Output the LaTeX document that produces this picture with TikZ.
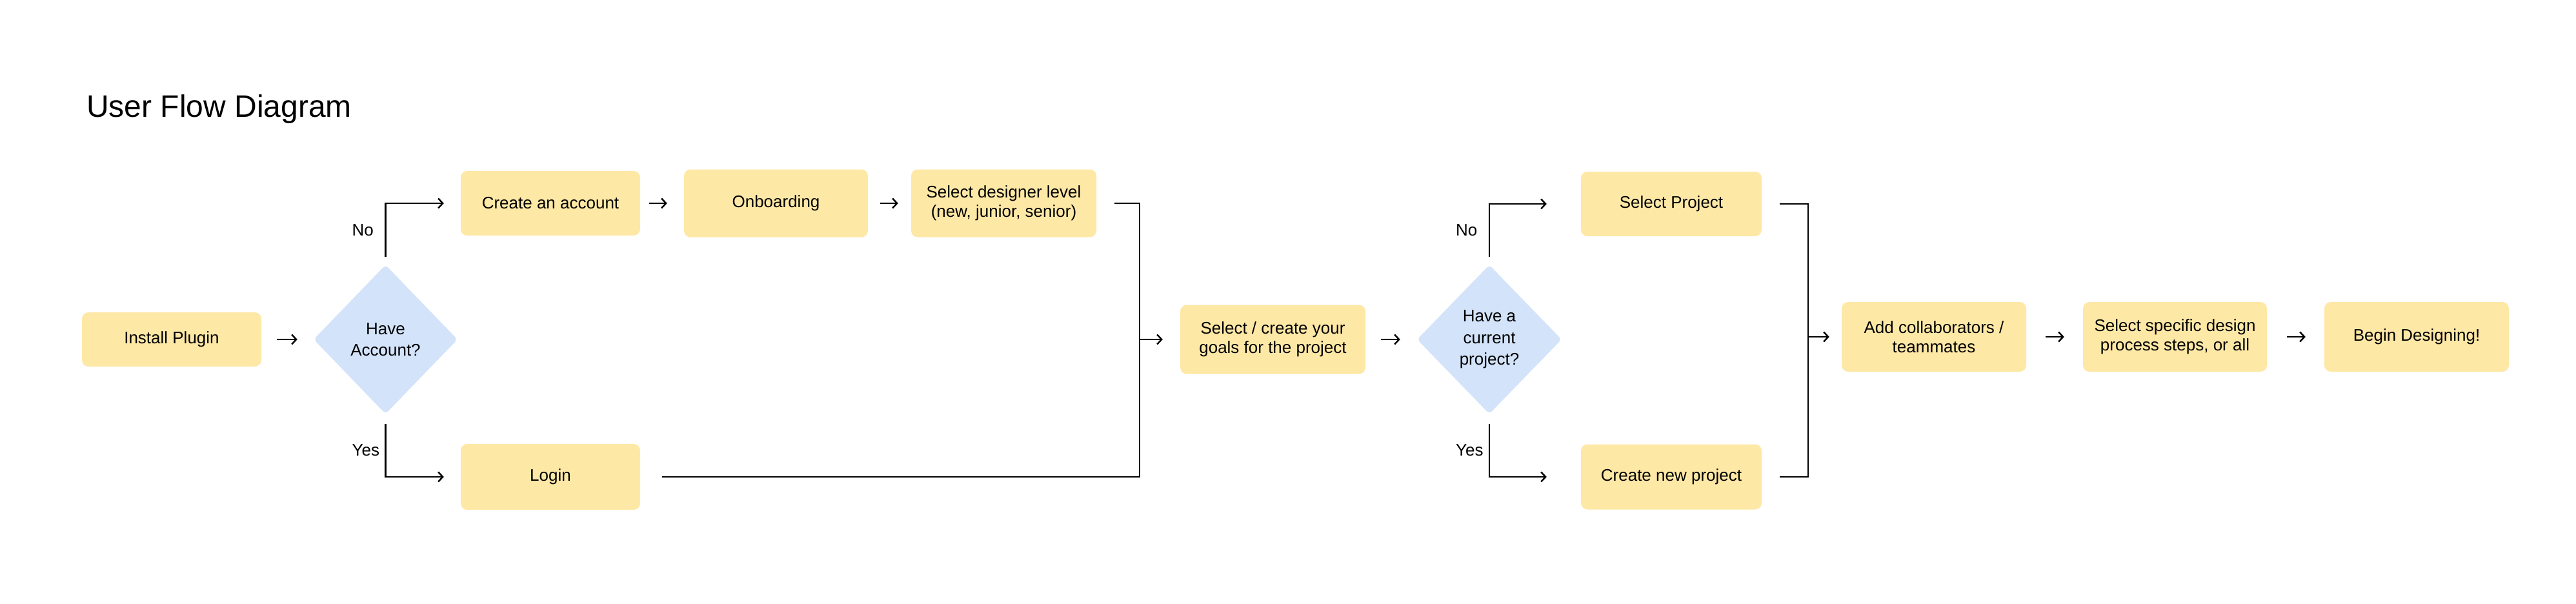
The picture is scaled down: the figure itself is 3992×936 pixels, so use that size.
\documentclass[tikz,border=0pt]{standalone}
\usepackage{fontspec}
\setmainfont{Liberation Sans}
\usetikzlibrary{arrows.meta,shapes.geometric}
\definecolor{boxyellow}{HTML}{FEE8A6}
\definecolor{diamblue}{HTML}{D3E3FA}
\begin{document}
\begin{tikzpicture}[x=1pt,y=-1pt,
  box/.style={rectangle, rounded corners=10pt, fill=boxyellow, draw=none, align=center, inner sep=0pt, font=\fontsize{26}{30}\selectfont},
  dec/.style={diamond, fill=diamblue, rounded corners=6pt, inner sep=0pt, align=center, font=\fontsize{26}{33.5}\selectfont},
  conn/.style={line width=2.4pt, draw=black},
  arr/.style={conn, -{Straight Barb[length=7pt,width=15pt]}},
  lab/.style={font=\fontsize{26}{30}\selectfont, inner sep=0pt, anchor=west, xshift=-53pt}
]
\useasboundingbox (0,0) rectangle (3992,936);

\node[anchor=base west, inner sep=0pt, font=\fontsize{48}{58}\selectfont] (title) at (134,182) {User Flow Diagram};

\node[box, minimum width=278pt, minimum height=84pt] (install) at (266,526) {Install Plugin};
\node[dec, minimum width=223pt, minimum height=231pt] (d1) at (597.5,526) {Have\\Account?};
\node[box, minimum width=278pt, minimum height=100pt] (create) at (853,315) {Create an account};
\node[box, minimum width=285pt, minimum height=105pt] (onboard) at (1202.5,315) {Onboarding};
\node[box, minimum width=287pt, minimum height=105pt] (level) at (1555.5,315) {Select designer level\\(new, junior, senior)};
\node[box, minimum width=278pt, minimum height=102pt] (login) at (853,739) {Login};
\node[box, minimum width=287pt, minimum height=107pt] (goals) at (1972.5,526) {Select / create your\\goals for the project};
\node[dec, minimum width=224pt, minimum height=231pt] (d2) at (2308,526) {Have a\\current\\project?};
\node[box, minimum width=280pt, minimum height=100pt] (selproj) at (2590,316) {Select Project};
\node[box, minimum width=280pt, minimum height=101pt] (newproj) at (2590,739) {Create new project};
\node[box, minimum width=286pt, minimum height=108pt] (collab) at (2997,522) {Add collaborators /\\teammates};
\node[box, minimum width=285pt, minimum height=108pt] (specific) at (3370.5,522) {Select specific design\\process steps, or all};
\node[box, minimum width=286pt, minimum height=108pt] (begin) at (3745,522) {Begin Designing!};

\coordinate (m1) at (1766,526);
\coordinate (m2) at (2802,522);

\draw[arr] ([xshift=24pt]install.east) -- ([xshift=-25pt]d1.west);
\draw[arr] ([yshift=12.5pt]d1.north) |- ([xshift=-26pt]create.west) node[pos=0.25, lab] {No};
\draw[arr] ([yshift=-15.5pt]d1.south) |- ([xshift=-26pt]login.west) node[pos=0.25, lab] {Yes};
\draw[arr] ([xshift=14pt]create.east) -- ([xshift=-26pt]onboard.west);
\draw[arr] ([xshift=19pt]onboard.east) -- ([xshift=-20pt]level.west);
\draw[conn] ([xshift=28pt]level.east) -| (m1);
\draw[conn] ([xshift=34pt]login.east) -| (m1);
\draw[arr] (m1) -- ([xshift=-27pt]goals.west);
\draw[arr] ([xshift=24pt]goals.east) -- ([xshift=-26pt]d2.west);
\draw[arr] ([yshift=12.5pt]d2.north) |- ([xshift=-53pt]selproj.west) node[pos=0.25, lab] {No};
\draw[arr] ([yshift=-15pt]d2.south) |- ([xshift=-53pt]newproj.west) node[pos=0.25, lab] {Yes};
\draw[conn] ([xshift=28pt]selproj.east) -| (m2);
\draw[conn] ([xshift=28pt]newproj.east) -| (m2);
\draw[arr] (m2) -- ([xshift=-19pt]collab.west);
\draw[arr] ([xshift=30pt]collab.east) -- ([xshift=-29pt]specific.west);
\draw[arr] ([xshift=31pt]specific.east) -- ([xshift=-29pt]begin.west);
\end{tikzpicture}
\end{document}
